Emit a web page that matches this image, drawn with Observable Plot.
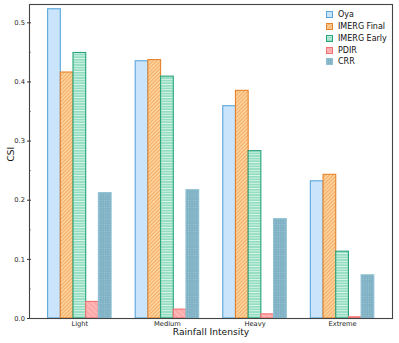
<!DOCTYPE html>
<html>
<head>
<meta charset="utf-8">
<script src="https://cdn.jsdelivr.net/npm/d3@7"></script>
<script src="https://cdn.jsdelivr.net/npm/@observablehq/plot@0.6"></script>
<style>
  body { margin: 0; background: #fff; font-family: "DejaVu Sans", sans-serif; }
  #wrap { position: relative; width: 399px; height: 343px; }
  #legend { position: absolute; left: 326px; top: 8.8px; font-size: 8px; color: #111; }
  #legend .row { display: flex; align-items: center; height: 11.8px; white-space: nowrap; }
  #legend svg { margin-right: 5px; }
</style>
</head>
<body>
<svg width="0" height="0" style="position:absolute">
  <defs>
    <pattern id="p-final" patternUnits="userSpaceOnUse" width="2.6" height="2.6" patternTransform="rotate(45)">
      <rect width="2.6" height="2.6" fill="#fed8a2"/>
      <line x1="0.6" y1="0" x2="0.6" y2="2.6" stroke="#f3a057" stroke-width="0.9"/>
    </pattern>
    <pattern id="p-early" patternUnits="userSpaceOnUse" width="4" height="2.6">
      <rect width="4" height="2.6" fill="#93ddc1"/>
      <line x1="0" y1="1.3" x2="4" y2="1.3" stroke="#e6f8f0" stroke-width="0.8"/>
    </pattern>
    <pattern id="p-pdir" patternUnits="userSpaceOnUse" width="4" height="4" patternTransform="rotate(-45)">
      <rect width="4" height="4" fill="#ffb7b7"/>
      <line x1="1" y1="0" x2="1" y2="4" stroke="#f08c8c" stroke-width="0.7"/>
    </pattern>
    <pattern id="p-crr" patternUnits="userSpaceOnUse" width="2.4" height="2.4">
      <rect width="2.4" height="2.4" fill="#7fb1c4"/>
      <circle cx="1.2" cy="1.2" r="0.55" fill="#a4c9d8"/>
    </pattern>
  </defs>
</svg>
<div id="wrap"><div id="legend"></div></div>
<script>
// ---- data ----
const categories = ["Light", "Medium", "Heavy", "Extreme"];
const seriesNames = ["Oya", "IMERG Final", "IMERG Early", "PDIR", "CRR"];
const oya        = [0.523, 0.435, 0.359, 0.232];
const imergFinal = [0.416, 0.437, 0.385, 0.243];
const imergEarly = [0.449, 0.409, 0.283, 0.113];
const pdir       = [0.028, 0.015, 0.007, 0.002];
const crr        = [0.212, 0.217, 0.168, 0.073];
const yTicks     = [0, 0.1, 0.2, 0.3, 0.4, 0.5];
const yMinorTicks = [0.05, 0.15, 0.25, 0.35, 0.45];
const xLabel = "Rainfall Intensity";
const yLabel = "CSI";

const seriesValues = [oya, imergFinal, imergEarly, pdir, crr];

// ---- styles ----
const styles = [
  {fill: "#c9e4fb", stroke: "#5aa6da"},
  {fill: "url(#p-final)", stroke: "#e6832c"},
  {fill: "url(#p-early)", stroke: "#27a37b"},
  {fill: "url(#p-pdir)", stroke: "#f07272"},
  {fill: "url(#p-crr)", stroke: "#8cc0d2"}
];
const barW = 0.145;
const nS = seriesNames.length;

const rows = [];
seriesValues.forEach((vals, si) => {
  vals.forEach((v, gi) => {
    rows.push({si, gi, series: seriesNames[si], category: categories[gi], value: v,
      x1: gi + (si - nS / 2) * barW, x2: gi + (si - nS / 2 + 1) * barW});
  });
});

const font = "DejaVu Sans";
const marks = [];
seriesNames.forEach((name, si) => {
  marks.push(Plot.rectY(rows.filter(d => d.si === si), {
    x1: "x1", x2: "x2", y1: 0, y2: "value",
    fill: styles[si].fill, stroke: styles[si].stroke, strokeWidth: 1.1
  }));
});
marks.push(
  Plot.axisY(yTicks, {tickSize: 2, tickPadding: 2.5, fontSize: 6.7, tickFormat: d3.format(".1f"), label: null, stroke: "#333", fill: "#222"}),
  Plot.axisY(yTicks, {tickSize: -2, tickFormat: () => "", label: null, stroke: "#333"}),
  Plot.axisY(yMinorTicks, {tickSize: -1.5, tickFormat: () => "", label: null, stroke: "#333"}),
  Plot.axisX(d3.range(categories.length), {tickSize: 0, tickPadding: 3, fontSize: 6.7, tickFormat: i => categories[i], label: null, fill: "#222"}),
  Plot.text([xLabel], {frameAnchor: "bottom", dy: 16, fontSize: 9.1, fill: "#111"}),
  Plot.text([yLabel], {frameAnchor: "left", dx: -18.3, rotate: -90, fontSize: 9.1, fill: "#111"}),
  Plot.frame({stroke: "#444", strokeWidth: 1.1})
);

const chart = Plot.plot({
  width: 399, height: 343,
  marginLeft: 29, marginRight: 7, marginTop: 4, marginBottom: 25,
  style: {fontFamily: font, background: "#fff"},
  x: {type: "linear", domain: [-0.575, 3.57], axis: null},
  y: {domain: [0, 0.531], axis: null},
  marks
});
document.getElementById("wrap").prepend(chart);

// ---- legend ----
const legend = document.getElementById("legend");
seriesNames.forEach((name, si) => {
  const row = document.createElement("div");
  row.className = "row";
  row.innerHTML = `<svg width="7" height="7"><rect x="0.5" y="0.5" width="6" height="6" fill="${styles[si].fill}" stroke="${styles[si].stroke}" stroke-width="1"/></svg><span>${name}</span>`;
  legend.appendChild(row);
});
</script>
</body>
</html>
